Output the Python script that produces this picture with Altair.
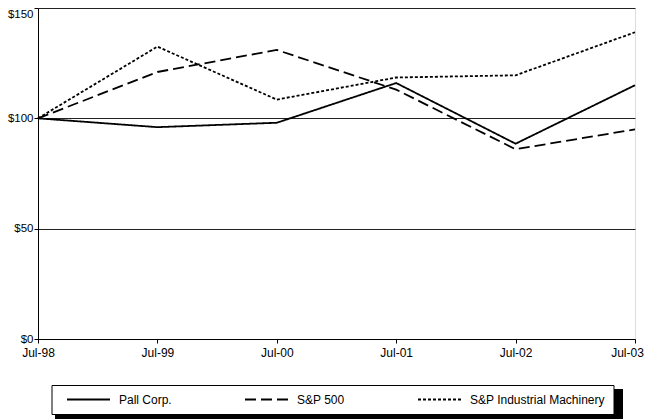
import altair as alt
import pandas as pd

dates = ["Jul-98", "Jul-99", "Jul-00", "Jul-01", "Jul-02", "Jul-03"]
series = ["Pall Corp.", "S&P 500", "S&P Industrial Machinery"]
pall = [100, 96, 98, 116, 88.5, 115]
sp500 = [100, 121, 131, 113, 86, 95]
ind_mach = [100, 132.5, 108.5, 118.5, 119.5, 139]
y_ticks = [0, 50, 100, 150]

rows = []
for name, vals in zip(series, [pall, sp500, ind_mach]):
    for d, v in zip(dates, vals):
        rows.append({"date": d, "series": name, "value": v})
df = pd.DataFrame(rows)

FONT = "Liberation Sans"
W, H = 597, 331

lines = alt.Chart(df).mark_line(strokeWidth=1.8, color="black").encode(
    x=alt.X(
        "date:N",
        sort=dates,
        scale=alt.Scale(type="point", padding=0),
        axis=alt.Axis(
            title=None, labelAngle=0, tickSize=4, labelPadding=4, grid=False,
            domainColor="black", tickColor="black", labelFontSize=12,
            labelColor="black", labelFont=FONT,
            labelOffset={"condition": {"test": "datum.value == 'Jul-03'", "value": -8}, "value": 0},
        ),
    ),
    y=alt.Y(
        "value:Q",
        scale=alt.Scale(domain=[0, 150], nice=False, zero=True),
        axis=alt.Axis(
            title=None, values=y_ticks, labelExpr="'$' + datum.value",
            tickSize=4, labelPadding=1, grid=True, gridColor="#222", gridWidth=1,
            domainColor="black", tickColor="black", labelFontSize=11.5,
            labelColor="black", labelFont=FONT,
            labelOffset={"condition": {"test": "datum.value == 150", "value": 6}, "value": 0},
        ),
    ),
    strokeDash=alt.StrokeDash(
        "series:N",
        scale=alt.Scale(domain=series, range=[[1, 0], [11, 5], [3, 2]]),
        legend=alt.Legend(
            orient="none", legendX=13.5, legendY=377, direction="horizontal",
            title=" ", titleOrient="left", titlePadding=6.5, titleFontSize=12,
            padding=8, strokeColor="black", fillColor="white",
            symbolType="stroke", symbolSize=1849, symbolStrokeWidth=1.8,
            symbolStrokeColor="black", clipHeight=13, labelOffset=8,
            columnPadding=72, labelFontSize=12, labelFont=FONT, labelColor="black",
        ),
    ),
)

shadow = alt.Chart(pd.DataFrame({"k": [0]})).mark_rect(color="black").encode(
    x=alt.value(17), x2=alt.value(585), y=alt.value(381), y2=alt.value(420)
)

chart = alt.layer(shadow, lines).properties(
    width=W, height=H,
    autosize=alt.AutoSizeParams(type="none"),
    padding={"left": 30, "top": 0, "right": 9, "bottom": 80},
).configure_view(strokeWidth=0).configure(background="white")

chart.save("out.html", embed_options={"renderer": "svg", "actions": False})
